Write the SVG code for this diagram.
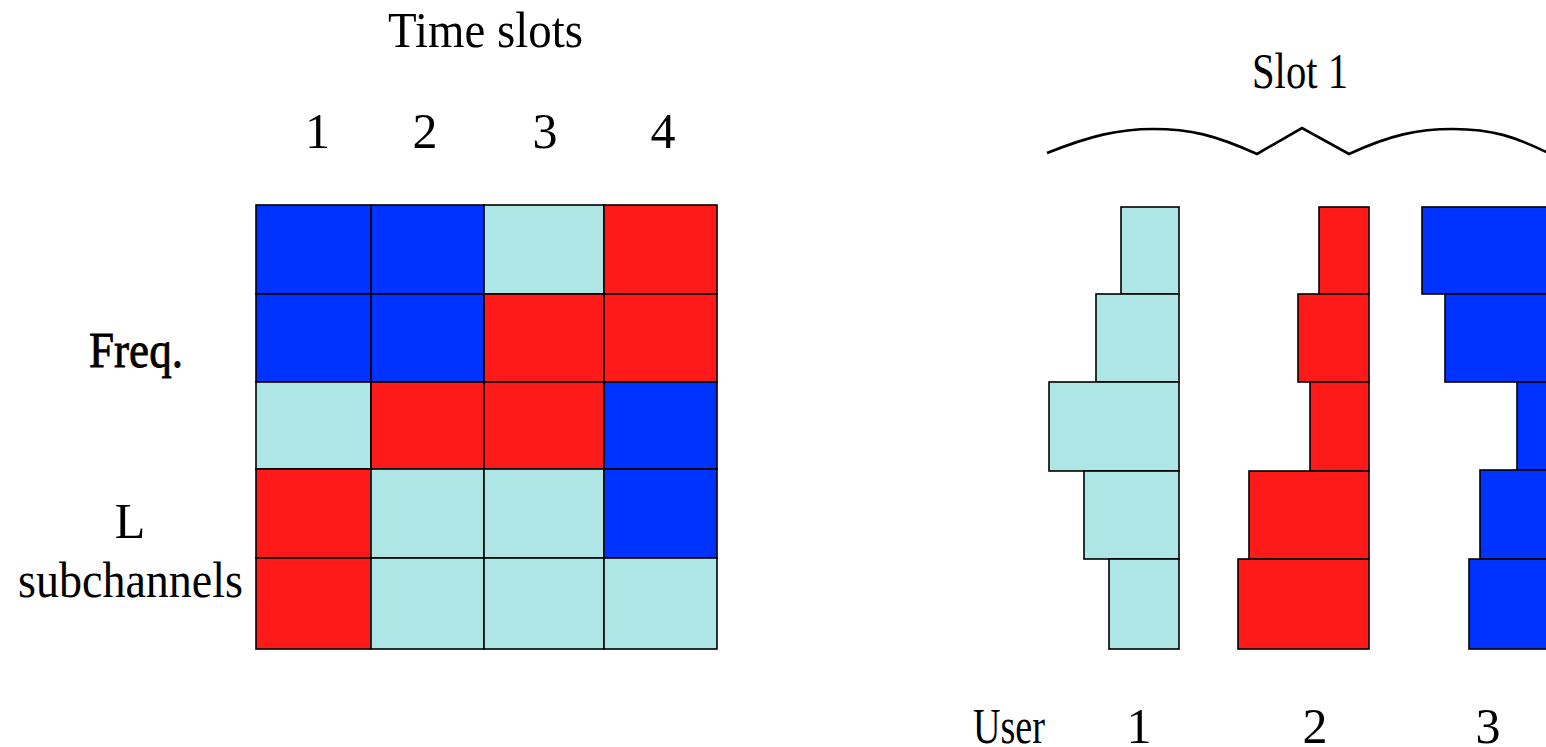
<svg xmlns="http://www.w3.org/2000/svg" width="1546" height="747" viewBox="0 0 1546 747">
<style>
.b{fill:#0033FF;stroke:#000;stroke-width:1.6}
.r{fill:#FF1A1A;stroke:#000;stroke-width:1.6}
.c{fill:#AEE6E6;stroke:#000;stroke-width:1.6}
.t{font-family:"Liberation Serif","Times New Roman",serif;font-size:50px;fill:#000;text-anchor:middle}
</style>
<rect width="1546" height="747" fill="#fff"/>
<g id="grid">
<rect class="b" x="256" y="205" width="115" height="89"/>
<rect class="b" x="371" y="205" width="113" height="89"/>
<rect class="c" x="484" y="205" width="120" height="89"/>
<rect class="r" x="604" y="205" width="113" height="89"/>
<rect class="b" x="256" y="294" width="115" height="88"/>
<rect class="b" x="371" y="294" width="113" height="88"/>
<rect class="r" x="484" y="294" width="120" height="88"/>
<rect class="r" x="604" y="294" width="113" height="88"/>
<rect class="c" x="256" y="382" width="115" height="87"/>
<rect class="r" x="371" y="382" width="113" height="87"/>
<rect class="r" x="484" y="382" width="120" height="87"/>
<rect class="b" x="604" y="382" width="113" height="87"/>
<rect class="r" x="256" y="469" width="115" height="89"/>
<rect class="c" x="371" y="469" width="113" height="89"/>
<rect class="c" x="484" y="469" width="120" height="89"/>
<rect class="b" x="604" y="469" width="113" height="89"/>
<rect class="r" x="256" y="558" width="115" height="91"/>
<rect class="c" x="371" y="558" width="113" height="91"/>
<rect class="c" x="484" y="558" width="120" height="91"/>
<rect class="c" x="604" y="558" width="113" height="91"/>
</g>
<g id="user1">
<rect class="c" x="1121" y="207" width="58" height="87"/>
<rect class="c" x="1096" y="294" width="83" height="88"/>
<rect class="c" x="1049" y="382" width="130" height="89"/>
<rect class="c" x="1084" y="471" width="95" height="88"/>
<rect class="c" x="1109" y="559" width="70" height="90"/>
</g>
<g id="user2">
<rect class="r" x="1319" y="207" width="50" height="87"/>
<rect class="r" x="1298" y="294" width="71" height="88"/>
<rect class="r" x="1310" y="382" width="59" height="89"/>
<rect class="r" x="1249" y="471" width="120" height="88"/>
<rect class="r" x="1238" y="559" width="131" height="90"/>
</g>
<g id="user3">
<rect class="b" x="1422" y="207" width="150" height="87"/>
<rect class="b" x="1445" y="294" width="127" height="88"/>
<rect class="b" x="1517" y="382" width="55" height="89"/>
<rect class="b" x="1480" y="470" width="92" height="89"/>
<rect class="b" x="1469" y="559" width="103" height="90"/>
</g>
<g id="brace">
<path d="M1047,153 C1090,136 1118,129 1153,129 C1190,129 1215,135 1257,154 L1302,128 L1349,154 C1390,135 1418,129 1453,129 C1490,129 1515,135 1562,160" fill="none" stroke="#000" stroke-width="2.6"/>
</g>
<g id="labels">
<text class="t" x="485.5" y="47" textLength="195" lengthAdjust="spacingAndGlyphs">Time slots</text>
<text class="t" x="317.5" y="148">1</text>
<text class="t" x="425" y="148">2</text>
<text class="t" x="545" y="148">3</text>
<text class="t" x="663" y="148">4</text>
<text class="t" x="136" y="367" textLength="94" lengthAdjust="spacingAndGlyphs" stroke="#000" stroke-width="0.8">Freq.</text>
<text class="t" x="130" y="538">L</text>
<text class="t" x="130.5" y="597" textLength="225" lengthAdjust="spacingAndGlyphs">subchannels</text>
<text class="t" x="1300" y="88" textLength="96" lengthAdjust="spacingAndGlyphs">Slot 1</text>
<text class="t" x="1045" y="743" style="text-anchor:end" textLength="72" lengthAdjust="spacingAndGlyphs">User</text>
<text class="t" x="1139" y="743">1</text>
<text class="t" x="1315" y="743">2</text>
<text class="t" x="1488" y="743">3</text>
</g>
</svg>
